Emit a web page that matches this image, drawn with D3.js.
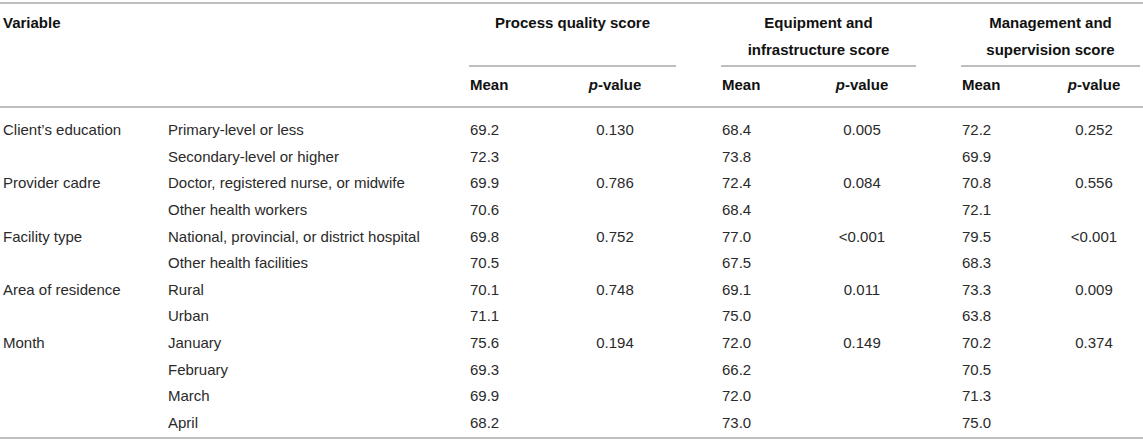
<!DOCTYPE html>
<html>
<head>
<meta charset="utf-8">
<script src="https://cdn.jsdelivr.net/npm/d3@7"></script>
<style>
  body { margin: 0; background: #fff; }
  text { font-family: "Liberation Sans", Arial, Helvetica, sans-serif; font-size: 15px; fill: #2a2a2a; }
  .hd { font-weight: bold; fill: #111; }
  .rule { stroke: #a8a8a8; stroke-width: 1.6; }
</style>
</head>
<body>
<div id="table"></div>
<script>
// table data
var variables = ["Client\u2019s education", "", "Provider cadre", "", "Facility type", "",
                 "Area of residence", "", "Month", "", "", ""];
var categories = ["Primary-level or less", "Secondary-level or higher",
                  "Doctor, registered nurse, or midwife", "Other health workers",
                  "National, provincial, or district hospital", "Other health facilities",
                  "Rural", "Urban", "January", "February", "March", "April"];
var processMean = ["69.2", "72.3", "69.9", "70.6", "69.8", "70.5", "70.1", "71.1", "75.6", "69.3", "69.9", "68.2"];
var processP    = ["0.130", "", "0.786", "", "0.752", "", "0.748", "", "0.194", "", "", ""];
var equipMean   = ["68.4", "73.8", "72.4", "68.4", "77.0", "67.5", "69.1", "75.0", "72.0", "66.2", "72.0", "73.0"];
var equipP      = ["0.005", "", "0.084", "", "<0.001", "", "0.011", "", "0.149", "", "", ""];
var mgmtMean    = ["72.2", "69.9", "70.8", "72.1", "79.5", "68.3", "73.3", "63.8", "70.2", "70.5", "71.3", "75.0"];
var mgmtP       = ["0.252", "", "0.556", "", "<0.001", "", "0.009", "", "0.374", "", "", ""];
var groups = [["Process quality score"], ["Equipment and", "infrastructure score"], ["Management and", "supervision score"]];

var w = 1143, h = 444;
var svg = d3.select("#table").append("svg").attr("width", w).attr("height", h);

// column positions
var colKeys = ["var", "cat", "m1", "p1", "m2", "p2", "m3", "p3"];
var colX = d3.scaleOrdinal().domain(colKeys).range([3, 168, 470, 615, 722, 862, 962, 1094]);
var colAnchor = function(k) { return k.charAt(0) == "p" ? "middle" : "start"; };
var groupSpan = [[469, 676], [721, 916], [961, 1140]];

// row positions
var y = d3.scalePoint().domain(d3.range(categories.length)).range([130, 423]);

// rules
var rules = [[0, w, 3], [0, w, 107], [0, w, 438]];
groupSpan.forEach(function(s) { rules.push([s[0], s[1], 66]); });
svg.append("g").selectAll("line").data(rules).enter().append("line")
  .attr("class", "rule")
  .attr("x1", function(d) { return d[0]; }).attr("x2", function(d) { return d[1]; })
  .attr("y1", function(d) { return d[2]; }).attr("y2", function(d) { return d[2]; });

// header
var head = svg.append("g");
head.append("text").attr("class", "hd").attr("x", colX("var")).attr("y", 28).text("Variable");
groups.forEach(function(lines, i) {
  var cx = (groupSpan[i][0] + groupSpan[i][1]) / 2;
  lines.forEach(function(t, j) {
    head.append("text").attr("class", "hd").attr("text-anchor", "middle")
      .attr("x", cx).attr("y", 28 + j * 27).text(t);
  });
});
["m1", "m2", "m3"].forEach(function(k) {
  head.append("text").attr("class", "hd").attr("x", colX(k)).attr("y", 90).text("Mean");
});
["p1", "p2", "p3"].forEach(function(k) {
  var t = head.append("text").attr("class", "hd").attr("text-anchor", "middle").attr("x", colX(k)).attr("y", 90);
  t.append("tspan").style("font-style", "italic").text("p");
  t.append("tspan").text("-value");
});

// body
var cols = [variables, categories, processMean, processP, equipMean, equipP, mgmtMean, mgmtP];
var cells = [];
cols.forEach(function(arr, c) {
  arr.forEach(function(v, r) { if (v !== "") cells.push({ key: colKeys[c], row: r, text: v }); });
});
svg.append("g").selectAll("text").data(cells).enter().append("text")
  .attr("x", function(d) { return colX(d.key); })
  .attr("y", function(d) { return y(d.row) + 5; })
  .attr("text-anchor", function(d) { return colAnchor(d.key); })
  .text(function(d) { return d.text; });
</script>
</body>
</html>
